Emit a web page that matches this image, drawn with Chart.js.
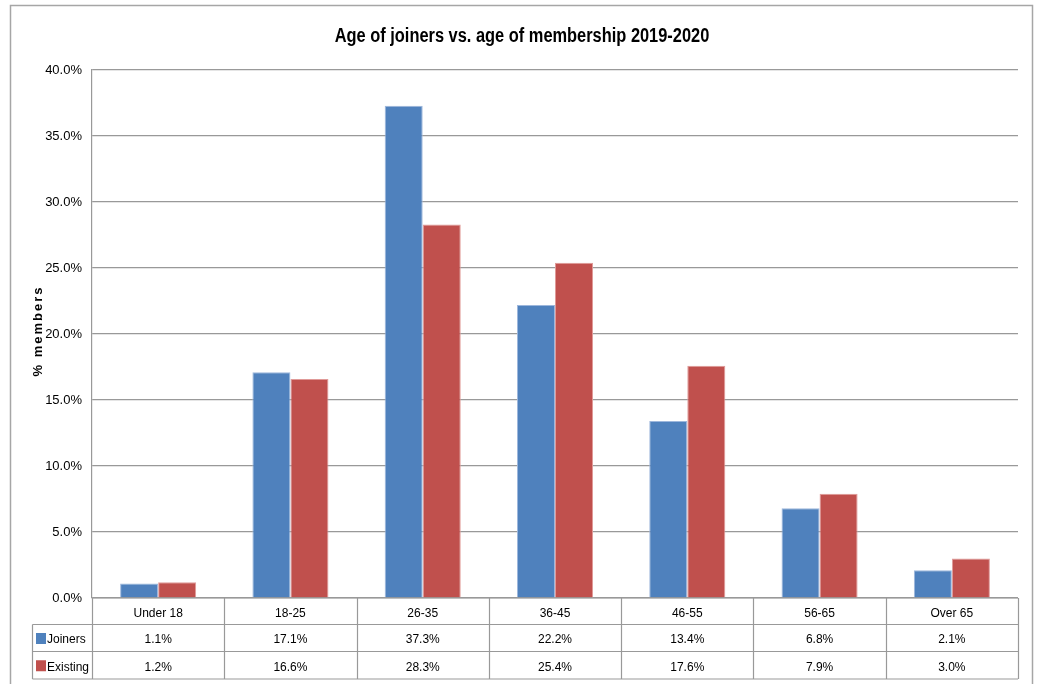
<!DOCTYPE html>
<html>
<head>
<meta charset="utf-8">
<script src="https://cdn.jsdelivr.net/npm/chart.js@4/dist/chart.umd.min.js"></script>
<style>
  html, body { margin: 0; padding: 0; background: #fff; }
  #wrap { width: 1037px; height: 684px; }
</style>
</head>
<body>
<div id="wrap"><canvas id="chart" width="1037" height="684"></canvas></div>
<script>
const categories = ['Under 18', '18-25', '26-35', '36-45', '46-55', '56-65', 'Over 65'];
const joiners = [1.1, 17.1, 37.3, 22.2, 13.4, 6.8, 2.1];
const existing = [1.2, 16.6, 28.3, 25.4, 17.6, 7.9, 3.0];
const yTicks = [0, 5, 10, 15, 20, 25, 30, 35, 40];
const chartTitle = 'Age of joiners vs. age of membership 2019-2020';

const BLUE = '#4f81bd';
const RED = '#c0504d';
const LINE = '#999999';
const FONT = '"Liberation Sans", Arial, sans-serif';

// frame, title, y-axis title and the data table under the bars
const tablePlugin = {
  id: 'dataTable',
  beforeDraw(chart) {
    const ctx = chart.ctx;
    ctx.save();
    ctx.strokeStyle = '#a6a6a6';
    ctx.lineWidth = 1.5;
    ctx.strokeRect(10.5, 5.5, 1022, 700);
    ctx.restore();
  },
  afterDraw(chart) {
    const ctx = chart.ctx;
    const x = chart.scales.x;
    const area = chart.chartArea;
    const step = (area.right - area.left) / categories.length;
    const rows = [area.bottom, 624.5, 651.5, 679];
    const keyLeft = 32.5;

    ctx.save();
    // condensed bold title
    ctx.save();
    ctx.translate(522, 42);
    ctx.scale(0.82, 1);
    ctx.font = 'bold 20px ' + FONT;
    ctx.fillStyle = '#000';
    ctx.textAlign = 'center';
    ctx.textBaseline = 'alphabetic';
    ctx.fillText(chartTitle, 0, 0);
    ctx.restore();

    ctx.strokeStyle = LINE;
    ctx.lineWidth = 1.2;
    ctx.beginPath();
    // horizontal rules
    ctx.moveTo(area.left, rows[0]); ctx.lineTo(area.right, rows[0]);
    for (let r = 1; r < rows.length; r++) {
      ctx.moveTo(keyLeft, rows[r]); ctx.lineTo(area.right, rows[r]);
    }
    // vertical rules
    ctx.moveTo(keyLeft, rows[1]); ctx.lineTo(keyLeft, rows[3]);
    for (let i = 0; i <= categories.length; i++) {
      const px = Math.round(area.left + i * step) + 0.5;
      ctx.moveTo(px, rows[0]); ctx.lineTo(px, rows[3]);
    }
    ctx.stroke();

    ctx.fillStyle = '#000';
    ctx.font = '12px ' + FONT;
    ctx.textAlign = 'center';
    ctx.textBaseline = 'middle';
    categories.forEach((c, i) => {
      const cx = x.getPixelForValue(i);
      ctx.fillText(c, cx, (rows[0] + rows[1]) / 2 + 2);
      ctx.fillText(joiners[i].toFixed(1) + '%', cx, (rows[1] + rows[2]) / 2 + 2);
      ctx.fillText(existing[i].toFixed(1) + '%', cx, (rows[2] + rows[3]) / 2 + 2);
    });

    // legend keys in the first column
    const series = [['Joiners', BLUE], ['Existing', RED]];
    ctx.textAlign = 'left';
    series.forEach(([name, color], r) => {
      const my = (rows[r + 1] + rows[r + 2]) / 2;
      ctx.fillStyle = color;
      ctx.fillRect(36, my - 5, 10, 11);
      ctx.fillStyle = '#000';
      ctx.fillText(name, 47, my + 2);
    });

    // rotated y-axis title
    ctx.translate(38, 331);
    ctx.rotate(-Math.PI / 2);
    ctx.font = 'bold 13px ' + FONT;
    ctx.letterSpacing = '2px';
    ctx.textAlign = 'center';
    ctx.fillText('% members', 0, 0);
    ctx.restore();
  }
};

new Chart(document.getElementById('chart'), {
  type: 'bar',
  data: {
    labels: categories,
    datasets: [
      { label: 'Joiners', data: joiners, backgroundColor: BLUE, borderColor: '#9db7dc', borderWidth: 1 },
      { label: 'Existing', data: existing, backgroundColor: RED, borderColor: '#e09a98', borderWidth: 1 }
    ]
  },
  options: {
    responsive: false,
    animation: false,
    layout: { padding: { left: 25, right: 19, top: 70, bottom: 86 } },
    datasets: { bar: { barPercentage: 1, categoryPercentage: 0.575 } },
    plugins: {
      legend: { display: false },
      tooltip: { enabled: false },
      title: { display: false }
    },
    scales: {
      x: { display: false },
      y: {
        min: 0,
        max: 40,
        afterFit(scale) { scale.width = 67; },
        afterBuildTicks(scale) { scale.ticks = yTicks.map(v => ({ value: v })); },
        border: { display: true, color: LINE, width: 1.2 },
        grid: { color: LINE, lineWidth: 1.2, drawTicks: false },
        ticks: {
          padding: 10,
          color: '#000',
          font: { family: FONT, size: 13 },
          callback: v => v.toFixed(1) + '%'
        }
      }
    }
  },
  plugins: [tablePlugin]
});
</script>
</body>
</html>
